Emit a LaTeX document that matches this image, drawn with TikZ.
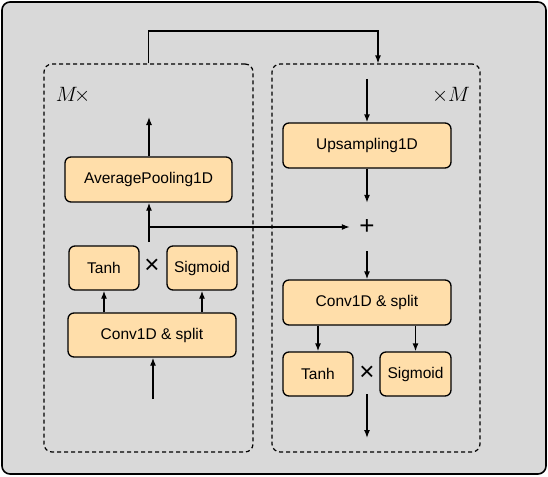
\documentclass[tikz,border=0pt]{standalone}
\usepackage{fontspec}
\setmainfont{Liberation Sans}
\usetikzlibrary{arrows.meta}
\definecolor{fondo}{RGB}{217,217,217}
\definecolor{naranja}{RGB}{255,222,170}

\begin{document}
\begin{tikzpicture}[x=1pt, y=-1pt,
    bloque/.style={draw, fill=naranja, line width=1.3pt, rounded corners=6pt,
        inner sep=0pt, font=\fontsize{15.5}{18}\selectfont},
    caja/.style={draw, line width=1.2pt, dash pattern=on 4pt off 3pt,
        rounded corners=8pt, inner sep=0pt, minimum height=388pt},
    flecha/.style={-{Latex[length=8pt,width=6pt]}, line width=1.3pt},
    op/.style={inner sep=0pt, font=\fontsize{26}{28}\selectfont}]
    \useasboundingbox (0,0) rectangle (548,476);
    \draw[fill=fondo, line width=1.6pt, rounded corners=8pt] (2,2) rectangle (546,474);

    % Bloque izquierdo (M veces)
    \node[caja, minimum width=209pt] (izq) at (148.5,258) {};
    \node[font=\fontsize{20}{22}\selectfont] (mizq) at (73,95) {$M\!{\times}$};
    \node[bloque, minimum width=167pt, minimum height=45pt] (avgpool) at (148.5,179.5) {AveragePooling1D};
    \node[bloque, minimum width=70pt, minimum height=44pt] (ltanh) at (104,268) {Tanh};
    \node[bloque, minimum width=70pt, minimum height=44pt] (lsig) at (202,268) {Sigmoid};
    \node[op] (lmul) at (152,266) {×};
    \node[bloque, minimum width=168pt, minimum height=44pt] (lconv) at (152,335) {Conv1D \& split};
    \coordinate (lin) at (153,399);
    \coordinate (lgate) at (149,242);
    \coordinate (lout) at (149,117);

    % Bloque derecho (M veces)
    \node[caja, minimum width=208pt] (der) at (376,258) {};
    \node[font=\fontsize{20}{22}\selectfont] (mder) at (451,95) {${\times}M$};
    \node[bloque, minimum width=168pt, minimum height=45pt] (upsam) at (367,145.5) {Upsampling1D};
    \node[op, minimum width=34pt, minimum height=48pt] (suma) at (367,227) {+};
    \node[bloque, minimum width=168pt, minimum height=45pt] (rconv) at (367,302.5) {Conv1D \& split};
    \node[bloque, minimum width=70pt, minimum height=44pt] (rtanh) at (318,374) {Tanh};
    \node[bloque, minimum width=71pt, minimum height=44pt] (rsig) at (415.5,374) {Sigmoid};
    \node[op] (rmul) at (367,373) {×};
    \coordinate (rin) at (367,79);
    \coordinate (rgate) at (367,394);
    \coordinate (rout) at (367,438);
    \coordinate (lazo) at (260,31);

    % Conexiones
    \draw[flecha] (izq.north) |- (lazo) -| ([xshift=2pt]der.north);
    \draw[flecha] (lin) -- (lin |- lconv.south);
    \draw[flecha] (lconv.north -| ltanh) -- (ltanh.south);
    \draw[flecha] (lconv.north -| lsig) -- (lsig.south);
    \draw[flecha] (lgate) -- (lgate |- avgpool.south);
    \draw[flecha] (avgpool.north -| lout) -- (lout);
    \draw[flecha] (lgate |- suma) -- (suma.west);
    \draw[flecha] (rin) -- (rin |- upsam.north);
    \draw[flecha] (upsam.south -| suma) -- (suma.north);
    \draw[flecha] (suma.south) -- (rconv.north -| suma);
    \draw[flecha] (rconv.south -| rtanh) -- (rtanh.north);
    \draw[flecha] (rconv.south -| rsig) -- (rsig.north);
    \draw[flecha] (rgate) -- (rout);
\end{tikzpicture}
\end{document}
